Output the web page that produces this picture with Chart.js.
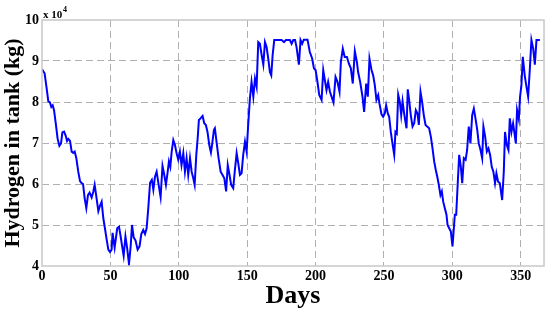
<!DOCTYPE html>
<html>
<head>
<meta charset="utf-8">
<script src="https://cdn.jsdelivr.net/npm/chart.js@4.4.1/dist/chart.umd.min.js"></script>
<style>
  html, body { margin: 0; padding: 0; background: #fff; }
  #wrap { width: 550px; height: 313px; position: relative; }
</style>
</head>
<body>
<div id="wrap"><canvas id="h2Chart" width="550" height="313"></canvas></div>
<script>
// -------------------------
// DATA (hydrogen in units of 10^4 kg)
// -------------------------
const days = [
  0, 1.9, 3.4, 4.6, 5.8, 6.8, 7.8, 8.8, 10.2, 11.4, 12.7, 13.9, 14.9, 16.1, 17.3, 18.3, 19.2, 20.5,
  21.7, 22.9, 23.9, 25.1, 26.5, 27.8, 29, 30, 31.2, 32.4, 33.6, 34.8, 36.3, 37.5, 38.5, 39.7, 41.2,
  42.4, 43.6, 44.8, 46, 47.2, 48.5, 49.7, 50.9, 51.6, 53.1, 55, 56.3, 57.5, 58.5, 59.7, 61, 62.2,
  63.6, 64.8, 65.8, 67, 68.4, 69.9, 71.3, 72.6, 74, 75.3, 76.5, 77.7, 79, 80.3, 81.4, 82.6, 83.8,
  85, 86.7, 88.1, 89.4, 90.6, 91.9, 92.8, 93.8, 94.8, 96, 97.2, 98.4, 99.6, 100.8, 102, 103.3,
  104.5, 105.7, 106.9, 108.2, 109.4, 110.6, 111.6, 112.8, 113.8, 114.7, 115.9, 117.4, 118.6, 119.8,
  121, 122.3, 123.5, 124.3, 125.7, 126.4, 127.6, 129.1, 130.6, 132, 133.3, 134.6, 135.8, 137.1,
  138.3, 139.8, 140.9, 142.3, 143.5, 144.7, 145.9, 147.1, 148.4, 149.6, 150.8, 152, 153.2, 154.5,
  155.7, 156.9, 158.1, 159.3, 160.6, 161.8, 163, 164.2, 165.4, 166.6, 167.6, 168.6, 169.8, 171.5,
  175.2, 176.9, 178.3, 181.2, 182.5, 183.7, 185, 186.1, 187.8, 189, 190.2, 191.4, 194.1, 195.8,
  197.5, 198.8, 200, 201.2, 202.7, 204.4, 205.6, 206.8, 208, 209.2, 210.5, 211.7, 213.1, 214.6,
  216, 217.5, 218.5, 219.9, 221.3, 222.9, 224.3, 225.8, 227.2, 228.7, 230.2, 231.1, 232.6, 234.3,
  235.5, 237, 238.2, 239.4, 240.9, 242.1, 243.3, 244.5, 245.8, 246.7, 248.2, 249.4, 250.6, 251.6,
  252.8, 253.8, 255, 256.2, 257.5, 258.4, 259.4, 260.4, 261.6, 262.6, 263.6, 264.6, 265.5, 266.5,
  267.4, 268.4, 269.6, 270.9, 272.1, 273.3, 274.5, 275.5, 276.7, 277.9, 279.1, 280.4, 281.6, 283,
  284.3, 285.5, 286.7, 287.9, 289.2, 290.1, 291.3, 292.3, 293.3, 294.5, 295.7, 296.5, 297.7, 298.9,
  300.1, 301.1, 301.8, 302.8, 304, 305, 306.2, 307.2, 308.4, 309.7, 310.8, 312, 313.2, 314.5, 315.7,
  316.9, 318.2, 319.3, 320.6, 321.8, 322.7, 324, 325.2, 326.4, 327.6, 328.8, 330, 331.2, 332.2,
  333.4, 334.7, 336.4, 337.6, 338.5, 339.8, 341, 342, 343.2, 344.4, 345.6, 346.4, 347.3, 348.6,
  349.5, 350.5, 351.5, 352.9, 354.2, 355.4, 356.6, 357.8, 359.1, 360.3, 361.5, 364
];

const hydrogen = [
  8.8, 8.7, 8.33, 8.02, 7.99, 7.88, 7.92, 7.8, 7.44, 7.11, 6.93, 6.99, 7.26, 7.28, 7.18, 7.05, 7.1, 7.05,
  6.79, 6.76, 6.79, 6.63, 6.3, 6.07, 6.02, 6.0, 5.65, 5.41, 5.73, 5.79, 5.67, 5.81, 5.98, 5.7, 5.34,
  5.47, 5.57, 5.17, 4.92, 4.66, 4.4, 4.34, 4.4, 4.81, 4.45, 4.92, 4.96, 4.72, 4.5, 4.25, 4.72, 4.45,
  4.05, 4.47, 5.0, 4.7, 4.62, 4.4, 4.48, 4.78, 4.88, 4.78, 4.92, 5.41, 6.03, 6.1, 5.86, 6.18, 6.3,
  6.04, 5.68, 6.44, 6.22, 5.98, 6.3, 6.55, 6.42, 6.79, 7.07, 6.95, 6.75, 6.59, 6.79, 6.46, 6.75,
  6.3, 6.63, 6.22, 6.63, 6.3, 6.14, 5.98, 6.71, 7.11, 7.56, 7.6, 7.66, 7.48, 7.44,
  7.27, 6.95, 6.77, 6.95, 7.32, 7.36, 7.03, 6.63, 6.3, 6.22, 6.14, 5.82, 6.46, 6.22,
  5.98, 5.9, 6.3, 6.75, 6.5, 6.22, 6.26, 6.71, 7.03, 6.79, 7.48, 8.09, 8.49, 8.13,
  8.57, 8.37, 9.46, 9.42, 9.14, 8.91, 9.46, 9.34, 9.06, 8.73, 8.65, 9.14, 9.51, 9.51,
  9.51, 9.46, 9.51, 9.51, 9.42, 9.51, 9.51, 9.34, 8.91, 9.51, 9.42, 9.52, 9.52, 9.22,
  9.06, 8.82, 8.78, 8.53, 8.17, 8.05, 8.78, 8.53, 8.29, 8.49, 8.25, 8.13, 7.99, 8.61,
  8.49, 8.25, 8.98, 9.3, 9.1, 9.1, 8.94, 8.82, 8.45, 9.24, 8.98, 8.73, 8.49, 8.13,
  7.76, 8.45, 8.13, 9.06, 8.78, 8.65, 8.41, 8.05, 8.17, 7.96, 7.7, 7.64, 7.72, 7.92,
  7.72, 7.64, 7.27, 6.99, 6.71, 7.27, 7.23, 8.18, 8.0, 7.68, 8.02, 7.76, 7.56, 7.36,
  8.31, 8.05, 7.68, 7.4, 7.48, 7.8, 7.72, 7.44, 8.25, 8.0, 7.68, 7.44, 7.4, 7.36,
  7.15, 6.87, 6.55, 6.34, 6.14, 5.98, 5.73, 5.82, 5.57, 5.41, 5.25, 5.0, 4.92, 4.84,
  4.48, 4.92, 5.25, 5.25, 6.06, 6.71, 6.42, 6.02, 6.63, 6.59, 6.83, 7.4, 6.99, 7.68, 7.84,
  7.6, 7.32, 6.99, 6.83, 6.63, 7.4, 7.15, 6.79, 6.87, 6.71, 6.42, 6.3, 6.02, 6.26,
  6.06, 6.02, 5.61, 6.3, 7.27, 6.95, 6.83, 7.6, 7.27, 7.48, 7.19, 6.99, 7.8, 7.58,
  8.13, 8.41, 9.1, 8.65, 8.37, 8.13, 8.78, 9.51, 9.3, 8.91, 9.51, 9.51
];

const xTicks = [0, 50, 100, 150, 200, 250, 300, 350];
const yTicks = [4, 5, 6, 7, 8, 9, 10];

const serif = "'Liberation Serif', 'Times New Roman', serif";

// -------------------------
// BOX + MULTIPLIER
// -------------------------
const boxPlugin = {
    id: 'box',
    afterDraw(chart) {
        const { ctx, chartArea } = chart;
        ctx.save();
        ctx.strokeStyle = '#c8c8c8';
        ctx.lineWidth = 1.5;
        ctx.strokeRect(chartArea.left, chartArea.top, chartArea.right - chartArea.left, chartArea.bottom - chartArea.top);

        ctx.fillStyle = '#000';
        ctx.font = "bold 11px " + serif;
        ctx.textBaseline = 'alphabetic';
        ctx.fillText('x 10', chartArea.left + 1, chartArea.top - 2);
        ctx.font = "bold 8px " + serif;
        ctx.fillText('4', chartArea.left + 21, chartArea.top - 8);
        ctx.restore();
    }
};

// -------------------------
// CHART
// -------------------------
const ctx = document.getElementById('h2Chart').getContext('2d');

new Chart(ctx, {
    type: 'line',
    data: {
        datasets: [{
            label: 'Hydrogen in tank',
            data: days.map((d, i) => ({ x: d, y: hydrogen[i] })),
            borderColor: '#0000ff',
            borderWidth: 2,
            pointRadius: 0,
            tension: 0,
            fill: false
        }]
    },
    options: {
        responsive: false,
        animation: false,
        layout: { padding: { left: 0, right: 6, top: 20, bottom: 0 } },
        plugins: {
            legend: { display: false },
            tooltip: { enabled: false }
        },
        scales: {
            x: {
                type: 'linear',
                min: 0,
                max: 367,
                afterBuildTicks: s => { s.ticks = xTicks.map(v => ({ value: v })); },
                afterFit: s => { s.height = 47; },
                ticks: {
                    color: '#000',
                    padding: 2,
                    maxRotation: 0,
                    font: { family: serif, size: 14, weight: 'bold' }
                },
                grid: {
                    color: c => c.tick && c.tick.value === 0 ? 'rgba(0,0,0,0)' : '#b0b0b0',
                    lineWidth: 1,
                    drawTicks: false
                },
                border: { display: false, dash: [7, 4] },
                title: {
                    display: true,
                    text: 'Days',
                    color: '#000',
                    padding: { top: 0, bottom: 1 },
                    font: { family: serif, size: 26, weight: 'bold' }
                }
            },
            y: {
                min: 4,
                max: 10,
                afterBuildTicks: s => { s.ticks = yTicks.map(v => ({ value: v })); },
                afterFit: s => { s.width = 42; },
                ticks: {
                    color: '#000',
                    padding: 3,
                    font: { family: serif, size: 14, weight: 'bold' }
                },
                grid: {
                    color: c => c.tick && (c.tick.value === 4 || c.tick.value === 10) ? 'rgba(0,0,0,0)' : '#b0b0b0',
                    lineWidth: 1,
                    drawTicks: false
                },
                border: { display: false, dash: [7, 4] },
                title: {
                    display: true,
                    text: 'Hydrogen in tank (kg)',
                    color: '#000',
                    padding: 0,
                    font: { family: serif, size: 22, weight: 'bold' }
                }
            }
        }
    },
    plugins: [boxPlugin]
});
</script>
</body>
</html>
